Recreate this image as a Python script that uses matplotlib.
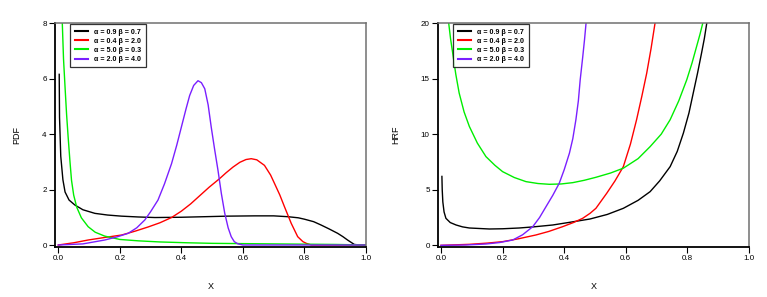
import matplotlib
matplotlib.use("Agg")
import matplotlib.pyplot as plt

plt.rcParams['font.family'] = ['Liberation Sans', 'DejaVu Sans']

labels = ["α = 0.9 β = 0.7", "α = 0.4 β = 2.0", "α = 5.0 β = 0.3", "α = 2.0 β = 4.0"]
colors = ["#000000", "#ff0000", "#00ee00", "#7a1fff"]

# ---- PDF panel ----
pdf_black_x = [0.003, 0.004, 0.008, 0.015, 0.022, 0.035, 0.054, 0.08, 0.119, 0.16, 0.205, 0.26, 0.314, 0.40, 0.476, 0.55, 0.638, 0.70, 0.746, 0.78, 0.80, 0.83, 0.854, 0.88, 0.908, 0.925, 0.94, 0.962, 0.98, 1.0]
pdf_black_y = [6.15, 4.6, 3.2, 2.35, 1.91, 1.62, 1.44, 1.27, 1.14, 1.08, 1.04, 1.01, 0.99, 1.00, 1.02, 1.04, 1.05, 1.05, 1.02, 0.98, 0.93, 0.84, 0.72, 0.58, 0.42, 0.30, 0.18, 0.02, 0.0, 0.0]

pdf_red_x = [0.0, 0.05, 0.097, 0.15, 0.206, 0.25, 0.292, 0.33, 0.368, 0.40, 0.43, 0.46, 0.49, 0.524, 0.545, 0.568, 0.59, 0.61, 0.627, 0.645, 0.670, 0.69, 0.703, 0.72, 0.735, 0.757, 0.778, 0.795, 0.806, 0.822, 1.0]
pdf_red_y = [0.0, 0.08, 0.18, 0.27, 0.36, 0.50, 0.65, 0.80, 0.99, 1.22, 1.48, 1.78, 2.08, 2.39, 2.60, 2.81, 2.98, 3.08, 3.11, 3.07, 2.87, 2.52, 2.21, 1.80, 1.38, 0.78, 0.30, 0.12, 0.06, 0.0, 0.0]

pdf_green_x = [0.013, 0.017, 0.022, 0.027, 0.032, 0.038, 0.043, 0.050, 0.060, 0.075, 0.097, 0.12, 0.151, 0.20, 0.26, 0.33, 0.42, 0.50, 0.60, 0.70, 0.80, 0.90, 1.0]
pdf_green_y = [8.0, 6.7, 5.68, 4.7, 3.89, 3.0, 2.33, 1.8, 1.36, 0.98, 0.66, 0.46, 0.32, 0.20, 0.15, 0.11, 0.08, 0.06, 0.05, 0.04, 0.03, 0.02, 0.0]

pdf_purple_x = [0.0, 0.08, 0.151, 0.19, 0.227, 0.255, 0.281, 0.30, 0.324, 0.345, 0.368, 0.385, 0.40, 0.415, 0.427, 0.44, 0.454, 0.465, 0.476, 0.487, 0.497, 0.508, 0.519, 0.53, 0.541, 0.552, 0.562, 0.572, 0.584, 0.60, 1.0]
pdf_purple_y = [0.0, 0.04, 0.18, 0.29, 0.42, 0.62, 0.90, 1.20, 1.62, 2.20, 2.93, 3.60, 4.25, 4.90, 5.39, 5.75, 5.92, 5.85, 5.63, 5.05, 4.25, 3.45, 2.69, 1.85, 1.14, 0.62, 0.30, 0.12, 0.04, 0.0, 0.0]

# ---- HRF panel ----
hrf_black_x = [0.003, 0.004, 0.006, 0.010, 0.016, 0.03, 0.049, 0.07, 0.092, 0.157, 0.20, 0.254, 0.30, 0.363, 0.42, 0.484, 0.54, 0.592, 0.64, 0.679, 0.71, 0.744, 0.767, 0.787, 0.805, 0.819, 0.833, 0.846, 0.855, 0.863]
hrf_black_y = [6.2, 5.0, 3.9, 3.0, 2.43, 2.05, 1.83, 1.66, 1.56, 1.47, 1.49, 1.56, 1.66, 1.83, 2.08, 2.37, 2.78, 3.33, 4.05, 4.83, 5.8, 7.08, 8.45, 10.1, 11.9, 13.7, 15.5, 17.3, 18.6, 20.0]

hrf_red_x = [0.0, 0.092, 0.15, 0.2, 0.25, 0.308, 0.35, 0.395, 0.43, 0.46, 0.484, 0.503, 0.538, 0.565, 0.592, 0.615, 0.635, 0.652, 0.668, 0.682, 0.695]
hrf_red_y = [0.0, 0.09, 0.20, 0.33, 0.58, 0.93, 1.25, 1.68, 2.05, 2.43, 2.88, 3.33, 4.68, 5.8, 7.08, 9.1, 11.3, 13.4, 15.5, 17.7, 20.0]

hrf_green_x = [0.025, 0.031, 0.038, 0.048, 0.059, 0.075, 0.092, 0.118, 0.146, 0.175, 0.2, 0.238, 0.276, 0.315, 0.352, 0.39, 0.428, 0.465, 0.503, 0.55, 0.592, 0.64, 0.679, 0.715, 0.744, 0.772, 0.798, 0.815, 0.83, 0.841, 0.85]
hrf_green_y = [20.0, 18.6, 17.3, 15.4, 13.7, 12.0, 10.7, 9.2, 7.98, 7.2, 6.63, 6.1, 5.73, 5.56, 5.49, 5.52, 5.64, 5.85, 6.12, 6.5, 6.94, 7.8, 8.88, 10.0, 11.3, 13.0, 14.9, 16.4, 17.9, 19.0, 20.0]

hrf_purple_x = [0.0, 0.08, 0.146, 0.19, 0.233, 0.265, 0.298, 0.32, 0.341, 0.363, 0.384, 0.40, 0.417, 0.428, 0.438, 0.446, 0.452, 0.46, 0.466, 0.471]
hrf_purple_y = [0.0, 0.03, 0.12, 0.25, 0.48, 0.95, 1.68, 2.5, 3.48, 4.5, 5.59, 6.8, 8.29, 9.6, 11.3, 13.0, 14.9, 16.9, 18.5, 20.0]

pdf_series = [(pdf_black_x, pdf_black_y), (pdf_red_x, pdf_red_y), (pdf_green_x, pdf_green_y), (pdf_purple_x, pdf_purple_y)]
hrf_series = [(hrf_black_x, hrf_black_y), (hrf_red_x, hrf_red_y), (hrf_green_x, hrf_green_y), (hrf_purple_x, hrf_purple_y)]

x_ticks = [0.0, 0.2, 0.4, 0.6, 0.8, 1.0]
pdf_yticks = [0, 2, 4, 6, 8]
hrf_yticks = [0, 5, 10, 15, 20]

fig = plt.figure(figsize=(7.67, 2.97), dpi=100)
ax1 = fig.add_axes([55/767, 1-247/297, (366-55)/767, (247-23)/297])
ax2 = fig.add_axes([438/767, 1-247/297, (749-438)/767, (247-23)/297])

def style(ax, series, yticks, ylim, ylabel, xlow):
    for (xs, ys), c, lab in zip(series, colors, labels):
        ax.plot(xs, ys, color=c, lw=1.0, label=lab, solid_joinstyle='round')
    ax.set_xlim(xlow, 1.0)
    ax.set_ylim(*ylim)
    ax.set_xticks(x_ticks)
    ax.set_xticklabels([f"{t:.1f}" for t in x_ticks])
    ax.set_yticks(yticks)
    ax.set_yticklabels([str(t) for t in yticks])
    ax.tick_params(direction='out', length=4, width=0.8, labelsize=5.8, pad=2)
    for s in ['left', 'bottom']:
        ax.spines[s].set_color('black')
        ax.spines[s].set_linewidth(1.3)
    for s in ['top', 'right']:
        ax.spines[s].set_color('#707070')
        ax.spines[s].set_linewidth(1.1)
    ax.set_ylabel(ylabel, fontsize=6.5, labelpad=15)
    ax.set_xlabel("X", fontsize=6.5, labelpad=14)
    leg = ax.legend(loc='upper left', bbox_to_anchor=(0.045, 1.0), fontsize=5.1,
                    frameon=True, fancybox=False, edgecolor='black',
                    handlelength=1.9, handletextpad=0.85, borderpad=0.6,
                    labelspacing=0.3, borderaxespad=0.2)
    leg.get_frame().set_linewidth(0.9)
    for t in leg.get_texts():
        t.set_fontweight('bold')
    for h in leg.get_lines():
        h.set_linewidth(1.5)

style(ax1, pdf_series, pdf_yticks, (-0.072, 8), "PDF", -0.0107)
style(ax2, hrf_series, hrf_yticks, (-0.15, 20), "HRF", -0.0097)

fig.savefig("out.png", dpi=100)
